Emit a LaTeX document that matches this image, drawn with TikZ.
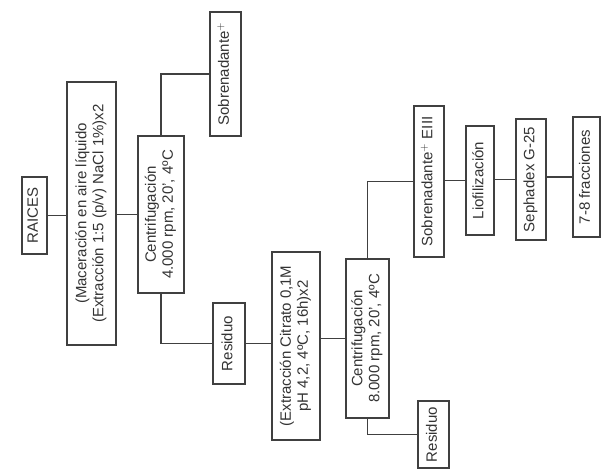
\documentclass[tikz,border=0pt]{standalone}
\usepackage{fontspec}
\setmainfont{Liberation Sans}
\newcommand{\vlabel}[1]{\rotatebox{90}{\begin{tabular}{@{}c@{}}#1\end{tabular}}}
\begin{document}
\begin{tikzpicture}[x=1pt, y=-1pt,
    caja/.style={draw=black!75, line width=1.4pt, inner sep=0pt, text=black!80,
                 font=\fontsize{15}{17}\selectfont},
    linea/.style={draw=black!75, line width=1.4pt}]
    \useasboundingbox (0,0) rectangle (602,471);
    % columna 1
    \node[caja, minimum width=25pt, minimum height=77pt] (raices) at (34.5,215.5) {\vlabel{RAICES}};
    \node[caja, minimum width=49pt, minimum height=263pt] (macer) at (91.5,213.5)
        {\vlabel{(Maceración en aire líquido\\(Extracción 1:5 (p/v) NaCl 1\%)x2}};
    \node[caja, minimum width=46pt, minimum height=157pt] (centA) at (161,214.5)
        {\vlabel{Centrifugación\\4.000 rpm, 20', 4ºC}};
    \node[caja, minimum width=31pt, minimum height=124pt] (sobreA) at (225.5,74) {\vlabel{Sobrenadante$^{+}$}};
    \node[caja, minimum width=32pt, minimum height=81pt] (residA) at (229,343.5) {\vlabel{Residuo}};
    % columna 2
    \node[caja, minimum width=48pt, minimum height=188pt] (citrato) at (296,346)
        {\vlabel{(Extracción Citrato 0,1M\\pH 4,2, 4ºC, 16h)x2}};
    \node[caja, minimum width=43pt, minimum height=159pt] (centB) at (367.5,338.5)
        {\vlabel{Centrifugación\\8.000 rpm, 20', 4ºC}};
    \node[caja, minimum width=31pt, minimum height=67pt] (residB) at (433.5,434.5) {\vlabel{Residuo}};
    \node[caja, minimum width=30pt, minimum height=151pt] (sobreB) at (429,181.5) {\vlabel{Sobrenadante$^{+}$ EIII}};
    \node[caja, minimum width=28pt, minimum height=109pt] (liof) at (480,180.5) {\vlabel{Liofilización}};
    \node[caja, minimum width=30pt, minimum height=121pt] (sephadex) at (531,179.5) {\vlabel{Sephadex G-25}};
    \node[caja, minimum width=27pt, minimum height=120pt] (fracc) at (586.5,177) {\vlabel{7-8 fracciones}};
    % conexiones
    \draw[linea] (raices.east) -- (raices.east -| macer.west);
    \draw[linea] (macer.east |- centA) -- (centA.west);
    \draw[linea] (centA.north) |- (sobreA.west);
    \draw[linea] (centA.south) |- (residA.west);
    \draw[linea] (residA.east) -- (residA.east -| citrato.west);
    \draw[linea] (citrato.east |- centB) -- (centB.west);
    \draw[linea] (centB.north) |- (sobreB.west);
    \draw[linea] (centB.south) |- (residB.west);
    \draw[linea] (sobreB.east |- liof) -- (liof.west);
    \draw[linea] (liof.east |- sephadex) -- (sephadex.west);
    \draw[linea] (sephadex.east |- fracc) -- (fracc.west);
\end{tikzpicture}
\end{document}
